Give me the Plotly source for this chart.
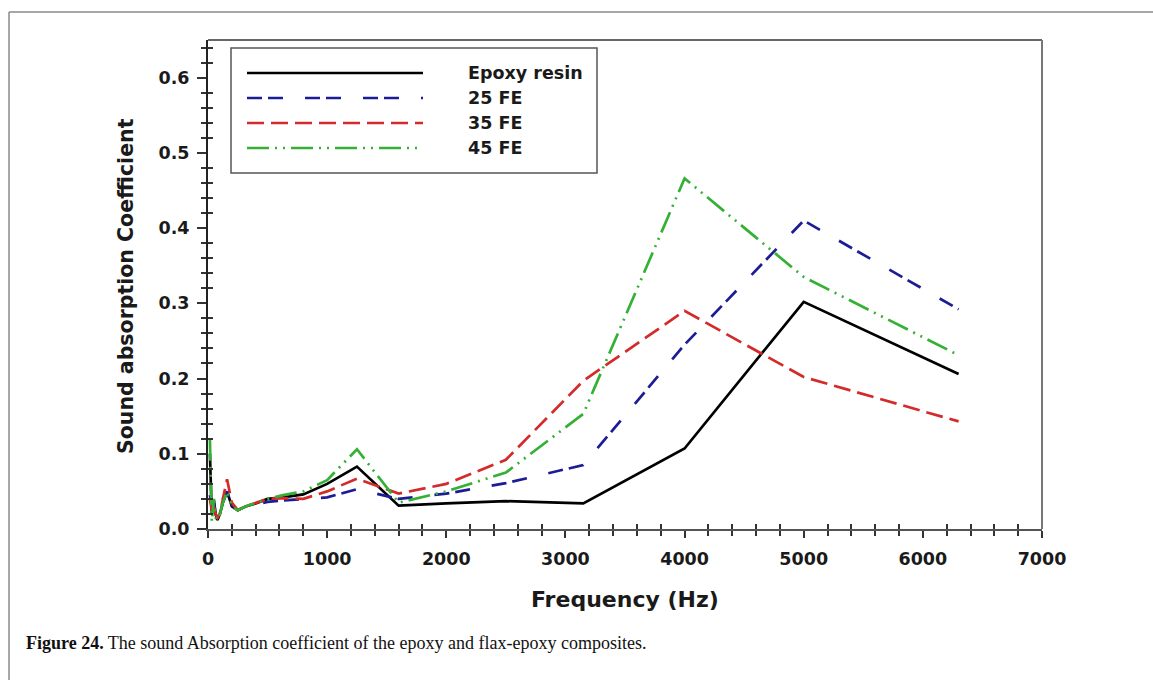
import plotly.graph_objects as go

W, H = 1153, 680
ML, MR, MT, MB = 208, 111, 40, 151
PW, PH = W - ML - MR, H - MT - MB

freq = [16, 31.5, 50, 63, 80, 100, 125, 160, 200, 250, 315, 400, 500, 630, 800,
        1000, 1250, 1600, 2000, 2500, 3150, 4000, 5000, 6300]
epoxy = [0.100, 0.020, 0.035, 0.020, 0.012, 0.020, 0.035, 0.050, 0.030, 0.025, 0.030, 0.034,
         0.040, 0.042, 0.046, 0.060, 0.083, 0.031, 0.034, 0.037, 0.034, 0.107, 0.302, 0.206]
fe25 = [0.045, 0.030, 0.040, 0.020, 0.015, 0.020, 0.040, 0.050, 0.032, 0.025, 0.030, 0.033,
        0.036, 0.038, 0.040, 0.042, 0.053, 0.040, 0.047, 0.061, 0.085, 0.245, 0.410, 0.292]
fe35 = [0.040, 0.025, 0.035, 0.020, 0.015, 0.020, 0.040, 0.066, 0.035, 0.025, 0.030, 0.035,
        0.040, 0.041, 0.040, 0.050, 0.067, 0.047, 0.060, 0.092, 0.197, 0.290, 0.202, 0.143]
fe45 = [0.120, 0.010, 0.040, 0.015, 0.012, 0.020, 0.035, 0.050, 0.030, 0.025, 0.030, 0.035,
        0.040, 0.045, 0.050, 0.065, 0.106, 0.035, 0.050, 0.075, 0.153, 0.466, 0.335, 0.231]

names = ["Epoxy resin", "25 FE", "35 FE", "45 FE"]
colors = ["#000000", "#1c1c96", "#d42a2a", "#35b035"]
dashes = ["solid", "15px,6px,15px,22px", "17px,7px", "22px,6px,2px,6px,2px,6px"]
series = [epoxy, fe25, fe35, fe45]


def px(x):
    return (x - ML) / PW


def py(y):
    return (MT + PH - y) / PH


fig = go.Figure()
for name, vals, col, dsh in zip(names, series, colors, dashes):
    fig.add_trace(go.Scatter(x=freq, y=vals, mode="lines", name=name,
                             line=dict(color=col, width=2.7, dash=dsh),
                             showlegend=False))

tickfont = dict(family="DejaVu Sans", size=17.5, color="#1a1a1a", weight="bold")

fig.update_layout(
    width=W, height=H,
    margin=dict(l=ML, r=MR, t=MT, b=MB),
    paper_bgcolor="white", plot_bgcolor="white",
    xaxis=dict(range=[0, 7000], dtick=1000, tick0=0, showgrid=False, zeroline=False,
               showline=True, linecolor="#555", linewidth=2, mirror=False,
               ticks="outside", ticklen=7, tickwidth=2, tickcolor="#333",
               minor=dict(dtick=200, ticks="outside", ticklen=5, tickwidth=2, tickcolor="#333"),
               tickfont=tickfont, ticklabelstandoff=6),
    yaxis=dict(range=[0, 0.65], dtick=0.1, tick0=0, tickformat=".1f", showgrid=False,
               zeroline=False, showline=True, linecolor="#222", linewidth=2,
               ticks="outside", ticklen=9, tickwidth=2, tickcolor="#333",
               minor=dict(dtick=0.02, ticks="outside", ticklen=5, tickwidth=2, tickcolor="#333"),
               tickfont=tickfont, ticklabelstandoff=4),
    xaxis2=dict(range=[0, 7000], overlaying="x", anchor="y", side="bottom", showgrid=False,
                zeroline=False, showline=False, ticks="", showticklabels=False,
                minor=dict(dtick=200, tick0=0, ticks="inside", ticklen=5, tickwidth=2, tickcolor="#333")),
    yaxis2=dict(range=[0, 0.65], overlaying="y", anchor="x", side="left", showgrid=False,
                zeroline=False, showline=False, ticks="", showticklabels=False,
                minor=dict(dtick=0.02, tick0=0, ticks="inside", ticklen=5, tickwidth=2, tickcolor="#333")),
)
# invisible helper trace so the overlay axes get drawn
fig.add_trace(go.Scatter(x=[freq[0]], y=[epoxy[0]], xaxis="x2", yaxis="y2", mode="lines",
                         showlegend=False, hoverinfo="skip", line=dict(width=0)))

shapes = []
# plot frame (top and right)
shapes.append(dict(type="line", xref="paper", yref="paper", x0=0, x1=1, y0=1, y1=1,
                   line=dict(color="#666", width=2)))
shapes.append(dict(type="line", xref="paper", yref="paper", x0=1, x1=1, y0=0, y1=1,
                   line=dict(color="#777", width=2)))
# outer figure frame
shapes.append(dict(type="line", xref="paper", yref="paper", x0=px(9), x1=px(1160), y0=py(12), y1=py(12),
                   line=dict(color="#8a8a8a", width=1.5)))
shapes.append(dict(type="line", xref="paper", yref="paper", x0=px(9), x1=px(9), y0=py(12), y1=py(690),
                   line=dict(color="#8a8a8a", width=1.5)))
# legend box
shapes.append(dict(type="rect", xref="paper", yref="paper", x0=px(231), x1=px(597), y0=py(173), y1=py(48),
                   line=dict(color="#555", width=1.5), fillcolor="white", layer="above"))
rows = [73, 98, 123, 148]
annotations = []
for r, name, col, dsh in zip(rows, names, colors, dashes):
    shapes.append(dict(type="line", xref="paper", yref="paper", x0=px(247), x1=px(423), y0=py(r), y1=py(r),
                       line=dict(color=col, width=2.7, dash=dsh), layer="above"))
    annotations.append(dict(xref="paper", yref="paper", x=px(466), y=py(r), text=name, showarrow=False,
                            xanchor="left", yanchor="middle",
                            font=dict(family="DejaVu Sans", size=17.5, color="#1a1a1a", weight="bold")))

annotations.append(dict(xref="paper", yref="paper", x=px(625), y=py(599), text="Frequency (Hz)",
                        showarrow=False, xanchor="center", yanchor="middle",
                        font=dict(family="DejaVu Sans", size=22, color="#1a1a1a", weight="bold")))
annotations.append(dict(xref="paper", yref="paper", x=px(126), y=py(286), text="Sound absorption Coefficient",
                        showarrow=False, xanchor="center", yanchor="middle", textangle=-90,
                        font=dict(family="DejaVu Sans", size=20.5, color="#1a1a1a", weight="bold")))
annotations.append(dict(xref="paper", yref="paper", x=px(24), y=py(643),
                        text="<b>Figure 24.</b> The sound Absorption coefficient of the epoxy and flax-epoxy composites.",
                        showarrow=False, xanchor="left", yanchor="middle",
                        font=dict(family="Liberation Serif", size=18, color="#111")))

fig.update_layout(shapes=shapes, annotations=annotations)
fig.write_html("out.html")
